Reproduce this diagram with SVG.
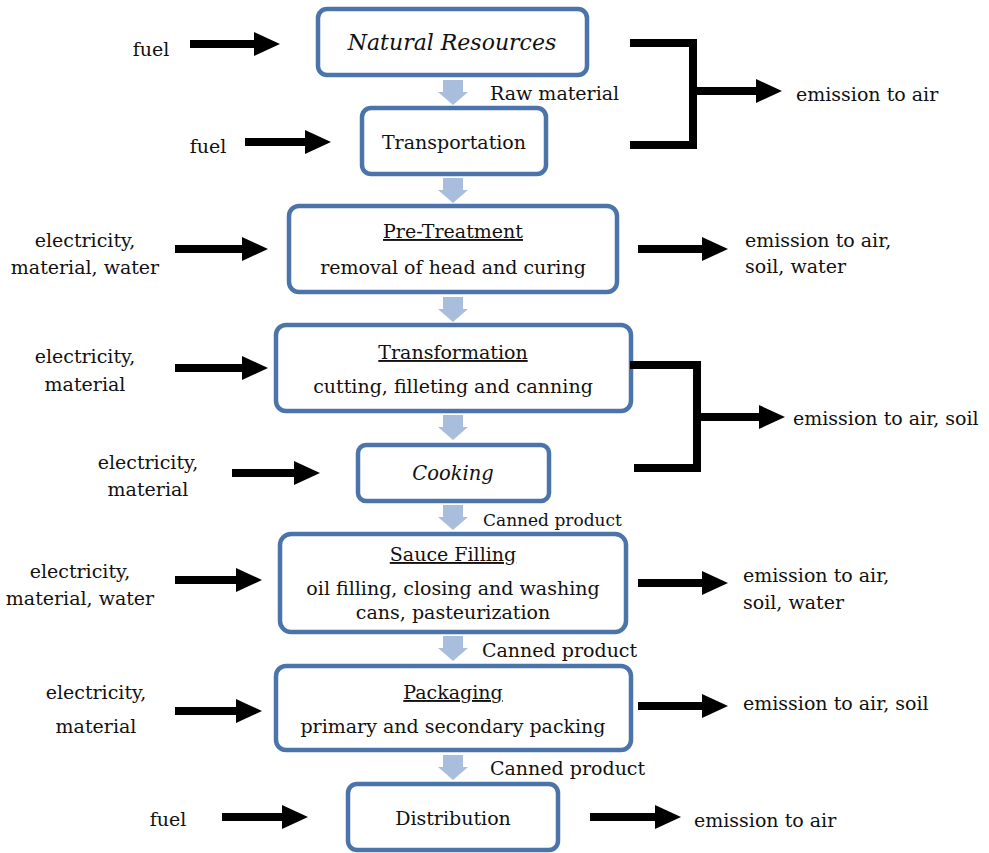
<svg xmlns="http://www.w3.org/2000/svg" width="989" height="853" viewBox="0 0 989 853">
<style>
.box{fill:#fff;stroke:#4b74aa;stroke-width:4.5}
text{font-family:'DejaVu Serif',serif;font-size:19px;fill:#111}
.c{text-anchor:middle}
.i{font-style:italic}
.u{text-decoration:underline}
.ar{stroke:#000;stroke-width:8;fill:none;marker-end:url(#ah)}
.br{stroke:#000;stroke-width:8;fill:none;stroke-linecap:square}
.da{fill:#a9bedd}
</style>
<defs>
<marker id="ah" viewBox="0 0 26 24" refX="1" refY="12" markerWidth="26" markerHeight="24" markerUnits="userSpaceOnUse" orient="auto">
<path d="M0,0 L26,12 L0,24 Z" fill="#000"/>
</marker>
<path id="down" d="M-10,0 H10 V12 H15 L0,25 L-15,12 H-10 Z"/>
</defs>

<g id="nodes">
<g id="n-natural">
<rect class="box" x="318" y="9" width="269" height="66" rx="9"/>
<text class="c i" x="452" y="50" style="font-size:22px">Natural Resources</text>
</g>
<g id="n-transport">
<rect class="box" x="362" y="108" width="184" height="66" rx="9"/>
<text class="c" x="454" y="149">Transportation</text>
</g>
<g id="n-pretreat">
<rect class="box" x="289" y="206" width="328" height="86" rx="10"/>
<text class="c u" x="453" y="238">Pre-Treatment</text>
<text class="c" x="453" y="274">removal of head and curing</text>
</g>
<g id="n-transform">
<rect class="box" x="276" y="325" width="355" height="86" rx="10"/>
<text class="c u" x="453" y="359">Transformation</text>
<text class="c" x="453" y="393">cutting, filleting and canning</text>
</g>
<g id="n-cooking">
<rect class="box" x="358" y="445" width="191" height="56" rx="8"/>
<text class="c i" x="453" y="480" style="font-size:19.5px">Cooking</text>
</g>
<g id="n-sauce">
<rect class="box" x="280" y="534" width="346" height="98" rx="11"/>
<text class="c u" x="453" y="561">Sauce Filling</text>
<text class="c" x="453" y="595">oil filling, closing and washing</text>
<text class="c" x="453" y="619">cans, pasteurization</text>
</g>
<g id="n-packaging">
<rect class="box" x="276" y="666" width="355" height="84" rx="10"/>
<text class="c u" x="453" y="699">Packaging</text>
<text class="c" x="453" y="733">primary and secondary packing</text>
</g>
<g id="n-distribution">
<rect class="box" x="348" y="784" width="210" height="66" rx="9"/>
<text class="c" x="453" y="825">Distribution</text>
</g>
</g>

<g id="connectors">
<g class="da">
<use href="#down" x="453" y="80"/>
<use href="#down" x="453" y="178"/>
<use href="#down" x="453" y="297"/>
<use href="#down" x="453" y="415"/>
<use href="#down" x="453" y="505"/>
<use href="#down" x="453" y="636"/>
<use href="#down" x="453" y="755"/>
</g>
<line class="ar" x1="190" y1="44" x2="255" y2="44"/>
<line class="ar" x1="245" y1="142" x2="306" y2="142"/>
<line class="ar" x1="175" y1="249" x2="243" y2="249"/>
<line class="ar" x1="175" y1="368" x2="243" y2="368"/>
<line class="ar" x1="232" y1="473" x2="295" y2="473"/>
<line class="ar" x1="175" y1="580" x2="237" y2="580"/>
<line class="ar" x1="175" y1="711" x2="237" y2="711"/>
<line class="ar" x1="222" y1="817" x2="283" y2="817"/>

<path class="br" d="M634,43 H693 V145 H634"/>
<line class="ar" x1="693" y1="91" x2="757" y2="91"/>
<line class="ar" x1="638" y1="249" x2="703" y2="249"/>
<path class="br" d="M634,365 H697 V468 H638"/>
<line class="ar" x1="697" y1="417" x2="760" y2="417"/>
<line class="ar" x1="638" y1="583" x2="703" y2="583"/>
<line class="ar" x1="638" y1="706" x2="703" y2="706"/>
<line class="ar" x1="590" y1="817" x2="656" y2="817"/>
</g>

<g id="labels">
<text x="490" y="100">Raw material</text>
<text x="483" y="526" style="font-size:17px">Canned product</text>
<text x="482" y="657">Canned product</text>
<text x="490" y="775">Canned product</text>

<text class="c" x="151" y="56">fuel</text>
<text class="c" x="208" y="153">fuel</text>
<text class="c" x="85" y="247">electricity,</text>
<text class="c" x="85" y="274">material, water</text>
<text class="c" x="85" y="363">electricity,</text>
<text class="c" x="85" y="391">material</text>
<text class="c" x="148" y="469">electricity,</text>
<text class="c" x="148" y="496">material</text>
<text class="c" x="80" y="578">electricity,</text>
<text class="c" x="80" y="605">material, water</text>
<text class="c" x="96" y="699">electricity,</text>
<text class="c" x="96" y="733">material</text>
<text class="c" x="168" y="826">fuel</text>

<text x="796" y="101">emission to air</text>
<text x="745" y="247">emission to air,</text>
<text x="745" y="273">soil, water</text>
<text x="793" y="425">emission to air, soil</text>
<text x="743" y="582">emission to air,</text>
<text x="743" y="609">soil, water</text>
<text x="743" y="710">emission to air, soil</text>
<text x="694" y="827">emission to air</text>
</g>
</svg>
